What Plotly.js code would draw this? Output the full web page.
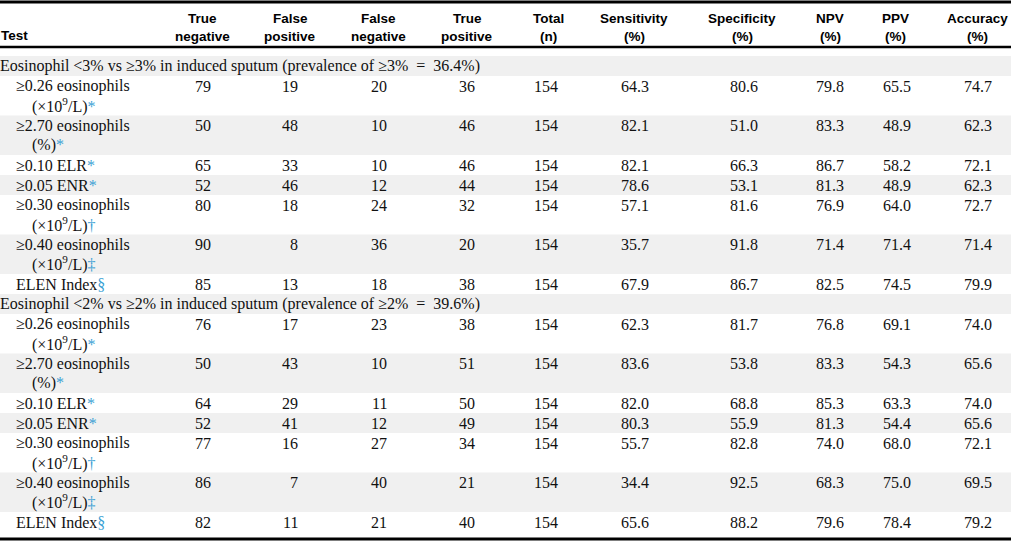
<!DOCTYPE html>
<html>
<head>
<meta charset="utf-8">
<script src="https://cdn.plot.ly/plotly-3.0.1.min.js"></script>
<style>
  body { margin: 0; background: #fff; }
  #plot { width: 1016px; height: 549px; }
</style>
</head>
<body>
<div id="plot"></div>
<script>
// Diagnostic performance table, two sputum eosinophil thresholds

const headers = [
    ['True', 'negative'], ['False', 'positive'], ['False', 'negative'], ['True', 'positive'],
    ['Total', '(n)'], ['Sensitivity', '(%)'], ['Specificity', '(%)'], ['NPV', '(%)'], ['PPV', '(%)'], ['Accuracy', '(%)']
];
const groupTitles = [
    'Eosinophil &lt;3% vs ≥3% in induced sputum (prevalence of ≥3% \u00a0=\u00a0 36.4%)',
    'Eosinophil &lt;2% vs ≥2% in induced sputum (prevalence of ≥2% \u00a0=\u00a0 39.6%)'
];
const testLine1 = ['≥0.26 eosinophils', '≥2.70 eosinophils', '≥0.10 ELR', '≥0.05 ENR', '≥0.30 eosinophils', '≥0.40 eosinophils', 'ELEN Index'];
const testLine2 = ['(×10<sup>9</sup>/L)', '(%)', '', '', '(×10<sup>9</sup>/L)', '(×10<sup>9</sup>/L)', ''];
const testMarks = ['*', '*', '*', '*', '†', '‡', '§'];

// group 1: <3% vs >=3%
const tn1 = [79, 50, 65, 52, 80, 90, 85];
const fp1 = [19, 48, 33, 46, 18, 8, 13];
const fn1 = [20, 10, 10, 12, 24, 36, 18];
const tp1 = [36, 46, 46, 44, 32, 20, 38];
const total1 = [154, 154, 154, 154, 154, 154, 154];
const sens1 = [64.3, 82.1, 82.1, 78.6, 57.1, 35.7, 67.9];
const spec1 = [80.6, 51.0, 66.3, 53.1, 81.6, 91.8, 86.7];
const npv1 = [79.8, 83.3, 86.7, 81.3, 76.9, 71.4, 82.5];
const ppv1 = [65.5, 48.9, 58.2, 48.9, 64.0, 71.4, 74.5];
const acc1 = [74.7, 62.3, 72.1, 62.3, 72.7, 71.4, 79.9];

// group 2: <2% vs >=2%
const tn2 = [76, 50, 64, 52, 77, 86, 82];
const fp2 = [17, 43, 29, 41, 16, 7, 11];
const fn2 = [23, 10, 11, 12, 27, 40, 21];
const tp2 = [38, 51, 50, 49, 34, 21, 40];
const total2 = [154, 154, 154, 154, 154, 154, 154];
const sens2 = [62.3, 83.6, 82.0, 80.3, 55.7, 34.4, 65.6];
const spec2 = [81.7, 53.8, 68.8, 55.9, 82.8, 92.5, 88.2];
const npv2 = [76.8, 83.3, 85.3, 81.3, 74.0, 68.3, 79.6];
const ppv2 = [69.1, 54.3, 63.3, 54.4, 68.0, 75.0, 78.4];
const acc2 = [74.0, 65.6, 74.0, 65.6, 72.1, 69.5, 79.2];

const groups = [
    [tn1, fp1, fn1, tp1, total1, sens1, spec1, npv1, ppv1, acc1],
    [tn2, fp2, fn2, tp2, total2, sens2, spec2, npv2, ppv2, acc2]
];

// layout geometry (pixel units on hidden axes)
const W = 1016, H = 549;
const tableRight = 1011;
const colRight = [211, 298, 387, 475, 558, 649, 758, 844, 911, 992];
const headCenter = [202, 290, 378, 467, 548, 634, 742, 830, 895, 977];
const decimals = [0, 0, 0, 0, 0, 1, 1, 1, 1, 1];
const singleH = 20, doubleH = 39.5, lineGap = 19;
const markColor = '#3a9fd4';
const stripe = '#f0f0f0';

const serif = { family: 'Liberation Serif, Times New Roman, serif', size: 16, color: '#111' };
const sans = { family: 'Liberation Sans, Arial, sans-serif', size: 13.5, color: '#000' };

let annotations = [];
let shapes = [];

function addText(x, y, text, font, anchor) {
    annotations.push({
        x: x, y: y, xref: 'x', yref: 'y', text: text, showarrow: false,
        xanchor: anchor, yanchor: 'middle', font: font, borderpad: 0, borderwidth: 0
    });
}

// header
addText(1, 35, '<b>Test</b>', sans, 'left');
headers.forEach((h, i) => {
    addText(headCenter[i], 18, '<b>' + h[0] + '</b>', sans, 'center');
    addText(headCenter[i], 36, '<b>' + h[1] + '</b>', sans, 'center');
});

// body rows
let y = 56;
let rowIdx = 0;
groups.forEach((cols, g) => {
    // group title row
    if (rowIdx % 2 === 0) {
        shapes.push({ type: 'rect', xref: 'x', yref: 'y', x0: 0, x1: tableRight, y0: y, y1: y + singleH,
            fillcolor: stripe, line: { width: 0 }, layer: 'below' });
    }
    addText(0, y + singleH / 2, groupTitles[g], serif, 'left');
    y += singleH;
    rowIdx++;

    testLine1.forEach((label, r) => {
        const two = testLine2[r] !== '';
        const h = two ? doubleH : singleH;
        if (rowIdx % 2 === 0) {
            shapes.push({ type: 'rect', xref: 'x', yref: 'y', x0: 0, x1: tableRight, y0: y, y1: y + h,
                fillcolor: stripe, line: { width: 0 }, layer: 'below' });
        }
        const cy = y + 10;
        const mark = '<span style="color:' + markColor + '">' + testMarks[r] + '</span>';
        if (two) {
            addText(16, cy, label, serif, 'left');
            addText(32, cy + lineGap, testLine2[r] + mark, serif, 'left');
        } else {
            addText(16, cy, label + mark, serif, 'left');
        }
        cols.forEach((col, c) => {
            addText(colRight[c], cy, col[r].toFixed(decimals[c]), serif, 'right');
        });
        y += h;
        rowIdx++;
    });
});

// rules
shapes.push({ type: 'line', xref: 'x', yref: 'y', x0: 0, x1: tableRight, y0: 2, y1: 2, line: { color: '#000', width: 3 } });
shapes.push({ type: 'line', xref: 'x', yref: 'y', x0: 0, x1: tableRight, y0: 47, y1: 47, line: { color: '#000', width: 2.5 } });
shapes.push({ type: 'line', xref: 'x', yref: 'y', x0: 0, x1: tableRight, y0: 539, y1: 539, line: { color: '#000', width: 3 } });

const layout = {
    width: W, height: H,
    margin: { l: 0, r: 0, t: 0, b: 0 },
    paper_bgcolor: '#fff', plot_bgcolor: '#fff',
    xaxis: { range: [0, W], visible: false, fixedrange: true },
    yaxis: { range: [H, 0], visible: false, fixedrange: true },
    showlegend: false,
    annotations: annotations,
    shapes: shapes
};

Plotly.newPlot('plot', [{ x: [0], y: [0], mode: 'markers', marker: { opacity: 0 }, hoverinfo: 'skip' }], layout, { displayModeBar: false, staticPlot: true });
</script>
</body>
</html>
